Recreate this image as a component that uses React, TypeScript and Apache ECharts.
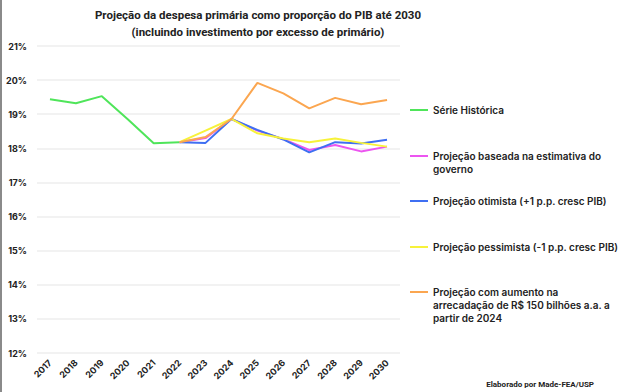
import React, { useEffect, useRef } from "react";
import * as echarts from "echarts";

const years = ["2017", "2018", "2019", "2020", "2021", "2022", "2023", "2024", "2025", "2026", "2027", "2028", "2029", "2030"];
const historica = [19.44, 19.32, 19.53, 18.85, 18.15, 18.18, null, null, null, null, null, null, null, null];
const governo = [null, null, null, null, null, 18.18, 18.3, 18.86, 18.52, 18.27, 17.95, 18.1, 17.91, 18.05];
const otimista = [null, null, null, null, null, 18.18, 18.16, 18.86, 18.54, 18.26, 17.88, 18.18, 18.14, 18.25];
const pessimista = [null, null, null, null, null, 18.18, 18.52, 18.86, 18.44, 18.29, 18.18, 18.29, 18.16, 18.05];
const arrecadacao = [null, null, null, null, null, 18.18, 18.33, 18.86, 19.92, 19.61, 19.17, 19.48, 19.29, 19.42];

const seriesNames = [
  "Série Histórica",
  "Projeção baseada na estimativa do",
  "Projeção otimista (+1 p.p. cresc PIB)",
  "Projeção pessimista (-1 p.p. cresc PIB)",
  "Projeção com aumento na",
];
const legendExtra = [[], ["governo"], [], [], ["arrecadação de R$ 150 bilhões a.a. a", "partir de 2024"]];
const colors = ["#4fe55a", "#ec55f0", "#3f6ff2", "#f7f23a", "#fba650"];
const legendY = [110, 156, 201, 247, 292];

const FONT = "Inter, Roboto, sans-serif";

export default function App() {
  const ref = useRef<HTMLDivElement>(null);
  useEffect(() => {
    if (!ref.current) return;
    const chart = echarts.init(ref.current, undefined, { renderer: "svg" });
    const data = [historica, governo, otimista, pessimista, arrecadacao];
    const graphic: any[] = [
      { type: "rect", shape: { x: 0, y: 0, width: 2, height: 392 }, style: { fill: "#8a8a8a" } },
      {
        type: "text",
        right: 24,
        top: 380,
        style: { text: "Elaborado por Made-FEA/USP", font: `bold 8px Roboto, sans-serif`, fill: "#222" },
      },
    ];
    legendExtra.forEach((lines, i) => {
      lines.forEach((t, j) => {
        graphic.push({
          type: "text",
          left: 433,
          top: legendY[i] + 8 + j * 13,
          style: { text: t, font: `600 10px ${FONT}`, fill: "#222" },
        });
      });
    });
    chart.setOption({
      animation: false,
      backgroundColor: "#fff",
      title: {
        text: "Projeção da despesa primária como proporção do PIB até 2030\n(incluindo investimento por excesso de primário)",
        left: 253,
        top: 1,
        textAlign: "center",
        textStyle: { fontFamily: "Roboto, sans-serif", fontSize: 11.5, fontWeight: "bold", color: "#222", lineHeight: 17 },
      },
      legend: seriesNames.map((n, i) => ({
        data: [n],
        left: 410,
        top: legendY[i] - 5,
        padding: 0,
        icon: "rect",
        itemWidth: 18,
        itemHeight: 2,
        textStyle: { fontFamily: FONT, fontSize: 10, fontWeight: 600, color: "#222" },
      })),
      grid: { left: 37, right: 218, top: 46, bottom: 39 },
      xAxis: {
        type: "category",
        data: years,
        boundaryGap: true,
        axisLine: { show: false },
        axisTick: { show: false },
        axisLabel: { rotate: 45, margin: 8, fontFamily: FONT, fontSize: 9, fontWeight: 700, color: "#222" },
      },
      yAxis: {
        type: "value",
        min: 12,
        max: 21,
        interval: 1,
        axisLabel: { formatter: "{value}%", margin: 10, fontFamily: FONT, fontSize: 9, fontWeight: 700, color: "#222" },
        splitLine: { lineStyle: { color: "#eeeeee", width: 1.5 } },
      },
      series: seriesNames.map((n, i) => ({
        name: n,
        type: "line",
        data: data[i],
        color: colors[i],
        symbol: "none",
        connectNulls: false,
        lineStyle: { width: 2, color: colors[i] },
        z: 2 + i,
      })),
      graphic,
    });
    return () => chart.dispose();
  }, []);
  return <div ref={ref} style={{ position: "fixed", left: 0, top: 0, width: 618, height: 392 }} />;
}
